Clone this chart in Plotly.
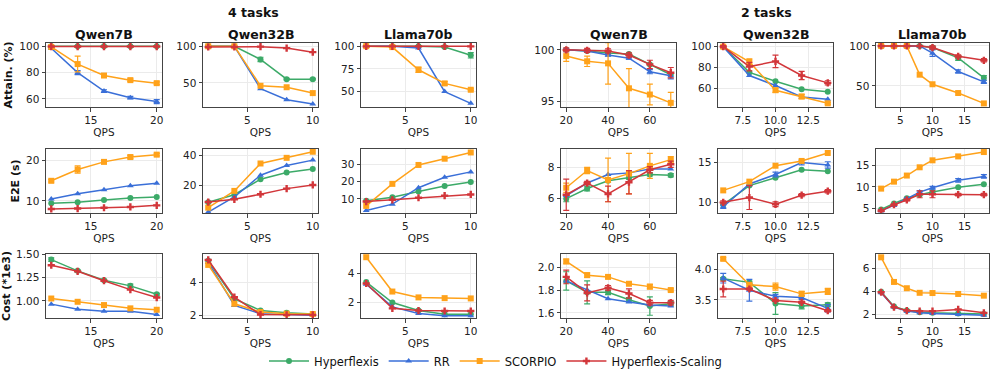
import plotly.graph_objects as go
from plotly.subplots import make_subplots

W, H = 997, 379

SERIES = ["Hyperflexis", "RR", "SCORPIO", "Hyperflexis-Scaling"]
COLORS = {"Hyperflexis": "#3CAA68", "RR": "#3A6FD8", "SCORPIO": "#FFA21A", "Hyperflexis-Scaling": "#D2363A"}
SYMBOLS = {"Hyperflexis": "circle", "RR": "triangle-up", "SCORPIO": "square", "Hyperflexis-Scaling": "cross"}

COL_TITLES = ["Qwen7B", "Qwen32B", "Llama70b", "Qwen7B", "Qwen32B", "Llama70b"]
ROW_TITLES = ["Attain. (%)", "E2E (s)", "Cost (*1e3)"]

# QPS per column
QPS = [
    [12, 14, 16, 18, 20],
    [2, 4, 6, 8, 10],
    [2, 4, 6, 8, 10],
    [20, 30, 40, 50, 60, 70],
    [6, 8, 10, 12, 14],
    [2, 4, 6, 8, 10, 14, 18],
]

# ---- attainment (%) ----
att_4_q7 = {"Hyperflexis": [100, 100, 100, 100, 100], "RR": [98.5, 80, 66, 61, 58],
            "SCORPIO": [99.5, 86.5, 77.8, 74.3, 72], "Hyperflexis-Scaling": [99.8, 99.8, 99.8, 99.8, 99.8]}
att_4_q32 = {"Hyperflexis": [100, 100, 82, 55, 55], "RR": [100, 100, 42, 27, 21],
             "SCORPIO": [100, 100, 46, 44, 36], "Hyperflexis-Scaling": [99, 99, 99.5, 97.5, 92]}
att_4_l70 = {"Hyperflexis": [100, 100, 100, 99, 90], "RR": [100, 100, 98, 50, 37],
             "SCORPIO": [100, 99, 74, 59, 52], "Hyperflexis-Scaling": [99.8, 99.8, 99.8, 99.8, 99.8]}
att_2_q7 = {"Hyperflexis": [100, 99.9, 99.7, 99.6, 98.6, 97.6], "RR": [100, 99.9, 99.5, 99.2, 97.9, 97.5],
            "SCORPIO": [99.4, 98.9, 98.7, 96.3, 95.7, 94.9], "Hyperflexis-Scaling": [100, 99.95, 99.9, 99.5, 98.6, 97.8]}
att_2_q32 = {"Hyperflexis": [100, 75.5, 67, 59.5, 57], "RR": [100, 72.5, 63, 52, 50],
             "SCORPIO": [100, 85.5, 58.5, 52.5, 46], "Hyperflexis-Scaling": [100, 81, 86, 72.5, 65.5]}
att_2_l70 = {"Hyperflexis": [100, 100, 100, 100, 98, 85, 60], "RR": [100, 100, 100, 100, 91, 68, 55],
             "SCORPIO": [100, 100, 100, 64, 52, 41, 28], "Hyperflexis-Scaling": [100, 100, 100, 100, 98, 87, 82]}

att_err = {
    (0, "SCORPIO"): [0.5, 6, 1.5, 1, 1],
    (0, "RR"): [0.5, 1.5, 1, 1, 1.5],
    (1, "Hyperflexis"): [0, 0, 3, 1, 1],
    (2, "SCORPIO"): [0, 1, 3, 2, 1],
    (2, "Hyperflexis"): [0, 0, 0, 1, 3],
    (3, "SCORPIO"): [0.5, 0.5, 2, 1.9, 1, 1],
    (3, "Hyperflexis-Scaling"): [0.2, 0.2, 0.2, 0.2, 0.4, 0.5],
    (3, "RR"): [0.1, 0.1, 0.1, 0.1, 0.2, 0.3],
    (4, "Hyperflexis-Scaling"): [1, 4, 6, 4, 2],
    (4, "SCORPIO"): [1, 3, 2, 2, 1],
    (5, "RR"): [0, 0, 0, 0, 4, 2, 2],
    (5, "Hyperflexis"): [0, 0, 0, 0, 2, 3, 3],
    (5, "Hyperflexis-Scaling"): [0, 0, 0, 0, 2, 2, 2],
}

# ---- E2E latency (s) ----
e2e_4_q7 = {"Hyperflexis": [9.4, 9.7, 10.2, 10.7, 11.0], "RR": [10.5, 11.8, 12.8, 13.8, 14.4],
            "SCORPIO": [15.0, 17.8, 19.7, 20.9, 21.5], "Hyperflexis-Scaling": [8.0, 8.1, 8.3, 8.5, 8.9]}
e2e_4_q32 = {"Hyperflexis": [9.0, 14.0, 24.2, 28.6, 30.8], "RR": [2.6, 12.5, 26.8, 33.2, 36.7],
             "SCORPIO": [5.5, 16.5, 34.5, 38.2, 42.2], "Hyperflexis-Scaling": [9.2, 11.0, 14.3, 18.0, 20.4]}
e2e_4_l70 = {"Hyperflexis": [9.0, 11.0, 14.3, 17.5, 19.8], "RR": [3.3, 7.0, 16.5, 22.5, 25.6],
             "SCORPIO": [6.0, 18.7, 29.6, 33.2, 36.8], "Hyperflexis-Scaling": [8.5, 9.5, 10.7, 11.9, 12.6]}
e2e_2_q7 = {"Hyperflexis": [6.0, 6.65, 7.15, 7.35, 7.55, 7.5], "RR": [6.2, 7.0, 7.55, 7.65, 7.9, 7.9],
            "SCORPIO": [6.7, 7.8, 7.2, 7.6, 8.1, 8.5], "Hyperflexis-Scaling": [6.25, 7.0, 6.3, 7.05, 7.85, 8.2]}
e2e_2_q32 = {"Hyperflexis": [9.7, 12.1, 13.1, 14.1, 13.9], "RR": [9.45, 12.3, 13.5, 15.0, 14.7],
             "SCORPIO": [11.5, 12.6, 14.6, 15.2, 16.2], "Hyperflexis-Scaling": [10.0, 10.6, 9.75, 10.9, 11.4]}
e2e_2_l70 = {"Hyperflexis": [4.8, 6.2, 7.4, 8.2, 8.8, 9.9, 10.6], "RR": [4.5, 5.8, 7.3, 8.8, 9.8, 11.5, 12.4],
             "SCORPIO": [9.6, 11.2, 12.6, 14.5, 16.1, 17.0, 18.0], "Hyperflexis-Scaling": [4.5, 5.9, 7.0, 8.3, 8.3, 8.2, 8.2]}

e2e_err = {
    (0, "SCORPIO"): [0.3, 0.9, 0.3, 0.4, 0.3],
    (3, "SCORPIO"): [0.3, 0.2, 1.4, 1.3, 0.8, 0.2],
    (3, "Hyperflexis-Scaling"): [1.0, 0.1, 0.5, 0.75, 0.2, 0.2],
    (3, "Hyperflexis"): [0.2, 0.15, 0.1, 0.1, 0.1, 0.1],
    (4, "Hyperflexis-Scaling"): [0.2, 1.5, 0.3, 0.2, 0.2],
    (4, "RR"): [0.2, 0.2, 0.3, 0.3, 0.4],
    (5, "Hyperflexis-Scaling"): [0.2, 0.2, 0.2, 0.8, 0.8, 0.3, 0.3],
    (5, "RR"): [0.2, 0.2, 0.2, 0.3, 0.3, 0.4, 0.4],
}

# ---- cost (*1e3) ----
cost_4_q7 = {"Hyperflexis": [1.44, 1.32, 1.22, 1.16, 1.07], "RR": [0.965, 0.91, 0.89, 0.89, 0.855],
             "SCORPIO": [1.025, 0.99, 0.955, 0.92, 0.905], "Hyperflexis-Scaling": [1.38, 1.315, 1.215, 1.12, 1.035]}
cost_4_q32 = {"Hyperflexis": [5.3, 3.0, 2.3, 2.15, 2.08], "RR": [5.2, 2.6, 2.1, 2.05, 2.0],
              "SCORPIO": [5.05, 2.7, 2.2, 2.1, 2.08], "Hyperflexis-Scaling": [5.35, 3.1, 2.05, 2.03, 2.03]}
cost_4_l70 = {"Hyperflexis": [3.4, 2.0, 1.45, 1.2, 1.2], "RR": [3.25, 1.7, 1.25, 1.1, 1.1],
              "SCORPIO": [5.1, 2.75, 2.35, 2.3, 2.28], "Hyperflexis-Scaling": [3.3, 1.6, 1.45, 1.42, 1.42]}
cost_2_q7 = {"Hyperflexis": [1.88, 1.78, 1.78, 1.715, 1.66, 1.68], "RR": [1.88, 1.80, 1.725, 1.695, 1.67, 1.66],
             "SCORPIO": [2.05, 1.93, 1.915, 1.855, 1.83, 1.80], "Hyperflexis-Scaling": [1.915, 1.775, 1.82, 1.77, 1.69, 1.69]}
cost_2_q32 = {"Hyperflexis": [3.85, 3.79, 3.44, 3.4, 3.42], "RR": [3.86, 3.66, 3.56, 3.54, 3.36],
              "SCORPIO": [4.18, 3.75, 3.72, 3.6, 3.64], "Hyperflexis-Scaling": [3.68, 3.68, 3.49, 3.46, 3.32]}
cost_2_l70 = {"Hyperflexis": [4.0, 2.7, 2.35, 2.2, 2.15, 2.1, 2.05], "RR": [3.9, 2.65, 2.3, 2.15, 2.1, 2.0, 1.95],
              "SCORPIO": [7.0, 4.85, 4.3, 3.9, 3.88, 3.8, 3.65], "Hyperflexis-Scaling": [3.95, 2.65, 2.35, 2.3, 2.3, 2.45, 2.15]}

cost_err = {
    (0, "Hyperflexis"): [0.02, 0.01, 0.01, 0.02, 0.01],
    (3, "Hyperflexis"): [0.08, 0.1, 0.02, 0.02, 0.08, 0.02],
    (3, "Hyperflexis-Scaling"): [0.06, 0.07, 0.02, 0.04, 0.02, 0.02],
    (3, "SCORPIO"): [0.02, 0.02, 0.01, 0.01, 0.02, 0.01],
    (4, "RR"): [0.08, 0.18, 0.03, 0.03, 0.06],
    (4, "Hyperflexis"): [0.02, 0.02, 0.18, 0.05, 0.03],
    (4, "SCORPIO"): [0.02, 0.02, 0.06, 0.04, 0.05],
    (4, "Hyperflexis-Scaling"): [0.13, 0.02, 0.02, 0.02, 0.02],
}

ROWS = [
    [att_4_q7, att_4_q32, att_4_l70, att_2_q7, att_2_q32, att_2_l70],
    [e2e_4_q7, e2e_4_q32, e2e_4_l70, e2e_2_q7, e2e_2_q32, e2e_2_l70],
    [cost_4_q7, cost_4_q32, cost_4_l70, cost_2_q7, cost_2_q32, cost_2_l70],
]
ERRS = [att_err, e2e_err, cost_err]

X_RANGES = [[11.6, 20.4], [1.6, 10.4], [1.6, 10.4], [17.5, 72.5], [5.6, 14.4], [1.2, 18.8]]
X_TICKS = [[15, 20], [5, 10], [5, 10], [20, 40, 60], [7.5, 10, 12.5], [5, 10, 15]]
X_TICKTEXT = [None, None, None, None, ["7.5", "10.0", "12.5"], None]

Y_RANGES = [
    [[53.9, 102.5], [17, 104.5], [33, 103.5], [94.5, 100.66], [42.5, 103.5], [23.5, 103.7]],
    [[7.0, 22.9], [2.0, 44], [1.9, 38.8], [5.08, 9.18], [8.66, 16.7], [4.0, 18.7]],
    [[0.817, 1.50], [1.84, 5.71], [0.94, 5.32], [1.556, 2.115], [3.2, 4.26], [1.7, 7.29]],
]
Y_TICKS = [
    [[60, 80, 100], [50, 100], [50, 75, 100], [95, 100], [60, 80, 100], [50, 100]],
    [[10, 20], [20, 40], [10, 20, 30], [6, 8], [10, 15], [5, 10, 15]],
    [[1.0, 1.25, 1.5], [2, 4], [2, 4], [1.6, 1.8, 2.0], [3.5, 4.0], [2, 4, 6]],
]
Y_TICKTEXT = [
    [None] * 6,
    [None] * 6,
    [["1.00", "1.25", "1.50"], None, None, ["1.6", "1.8", "2.0"], ["3.5", "4.0"], None],
]

# pixel boxes
COL_PX = [(46, 162), (203, 318), (361, 476), (561, 676), (718, 833), (876, 989)]
ROW_PX = [(43, 107), (149, 213), (254, 318)]

FONT = "DejaVu Sans"

fig = make_subplots(rows=3, cols=6)

for r in range(3):
    for c in range(6):
        data = ROWS[r][c]
        for s in SERIES:
            err = ERRS[r].get((c, s))
            fig.add_trace(go.Scatter(
                x=QPS[c], y=data[s], mode="lines+markers", name=s,
                line=dict(color=COLORS[s], width=1.5),
                marker=dict(symbol=SYMBOLS[s], size=6, color=COLORS[s]),
                error_y=dict(type="data", array=err, visible=err is not None,
                             color=COLORS[s], thickness=1.2, width=3),
                showlegend=(r == 0 and c == 0), legendgroup=s,
            ), row=r + 1, col=c + 1)

for r in range(3):
    for c in range(6):
        idx = r * 6 + c + 1
        sx = "" if idx == 1 else str(idx)
        x0, x1 = COL_PX[c]
        y0, y1 = ROW_PX[r]
        fig.layout["xaxis" + sx].update(
            domain=[x0 / W, x1 / W], range=X_RANGES[c], tickvals=X_TICKS[c], ticktext=X_TICKTEXT[c],
            showline=True, mirror=True, linecolor="#444444", linewidth=1,
            ticks="outside", ticklen=3.5, tickcolor="#444444", automargin=False,
            showgrid=True, gridcolor="#ebebeb", zeroline=False,
            tickfont=dict(size=10.5, color="#222"),
            title=dict(text="QPS", font=dict(size=10.5, color="#222"), standoff=3),
        )
        fig.layout["yaxis" + sx].update(
            domain=[1 - y1 / H, 1 - y0 / H], range=Y_RANGES[r][c], tickvals=Y_TICKS[r][c],
            ticktext=Y_TICKTEXT[r][c],
            showline=True, mirror=True, linecolor="#444444", linewidth=1,
            ticks="outside", ticklen=3.5, tickcolor="#444444", automargin=False,
            showgrid=True, gridcolor="#ebebeb", zeroline=False,
            tickfont=dict(size=10.5, color="#222"),
        )
        if c == 0:
            fig.layout["yaxis" + sx].title = dict(text="<b>" + ROW_TITLES[r] + "</b>",
                                                  font=dict(size=11, color="#111"), standoff=4)

annotations = []
for c, t in enumerate(COL_TITLES):
    x0, x1 = COL_PX[c]
    annotations.append(dict(text="<b>" + t + "</b>", x=(x0 + x1) / 2 / W, y=1 - 34 / H,
                            xref="paper", yref="paper", showarrow=False,
                            font=dict(size=12.5, color="#111"), xanchor="center", yanchor="middle"))
annotations.append(dict(text="<b>4 tasks</b>", x=253 / W, y=1 - 12 / H, xref="paper", yref="paper",
                        showarrow=False, font=dict(size=12.5, color="#111"), xanchor="center", yanchor="middle"))
annotations.append(dict(text="<b>2 tasks</b>", x=766 / W, y=1 - 12 / H, xref="paper", yref="paper",
                        showarrow=False, font=dict(size=12.5, color="#111"), xanchor="center", yanchor="middle"))

fig.update_layout(
    width=W, height=H,
    margin=dict(l=0, r=0, t=0, b=0),
    plot_bgcolor="white", paper_bgcolor="white",
    font=dict(family=FONT, color="#222"),
    annotations=annotations,
    legend=dict(orientation="h", x=0.497, xanchor="center", y=1 - 361 / H, yanchor="middle",
                font=dict(size=11.5, color="#111"), itemwidth=40),
)

# drop the browser's default page margin so the figure sits at (0, 0)
fig.write_html("out.html", config={"displayModeBar": False},
               post_script="document.body.style.margin='0';")
